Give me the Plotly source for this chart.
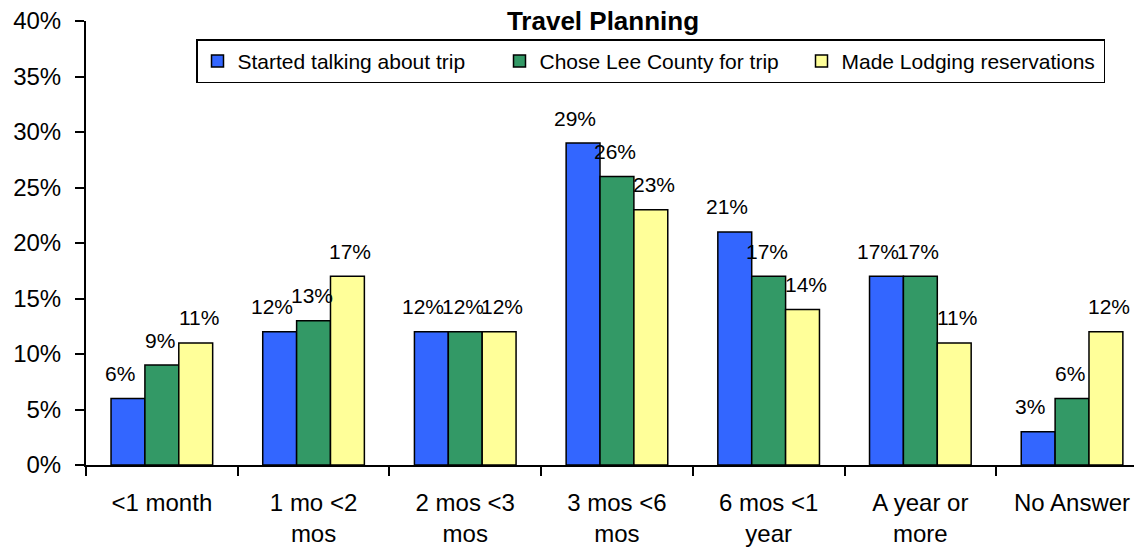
import plotly.graph_objects as go

categories = ["<1 month", "1 mo <2<br>mos", "2 mos <3<br>mos", "3 mos <6<br>mos",
              "6 mos <1<br>year", "A year or<br>more", "No Answer"]
series_names = ["Started talking about trip", "Chose Lee County for trip", "Made Lodging reservations"]
started = [6, 12, 12, 29, 21, 17, 3]
chose = [9, 13, 12, 26, 17, 17, 6]
lodging = [11, 17, 12, 23, 14, 11, 12]
y_ticks = [0, 5, 10, 15, 20, 25, 30, 35, 40]

colors = ["#3366FF", "#339966", "#FFFF99"]
FONT = "Arial, Liberation Sans, Helvetica, sans-serif"

W, H = 1134, 549
ML, MR, MT, MB = 86, 0, 21, 84
plot_w = W - ML - MR
cat_px = 151.7
x_end = -0.5 + plot_w / cat_px
bargap = 0.33
bar_px = cat_px * (1 - bargap) / 3

fig = go.Figure()
all_vals = [started, chose, lodging]
for name, vals, col in zip(series_names, all_vals, colors):
    fig.add_trace(go.Bar(
        x=categories, y=vals, name=name,
        marker=dict(color=col, line=dict(color="black", width=1.5)),
    ))

label_shift = [-8, -2, 3]
annotations = []
for i, vals in enumerate(all_vals):
    for cat, v in zip(categories, vals):
        annotations.append(dict(
            x=cat, y=v, xref="x", yref="y", text=f"{v}%", showarrow=False,
            xanchor="center", yanchor="middle",
            xshift=(i - 1) * bar_px + label_shift[i], yshift=25,
            font=dict(family=FONT, size=21, color="black"),
        ))

fig.update_layout(
    template="none",
    width=W, height=H,
    margin=dict(l=ML, r=MR, t=MT, b=MB, pad=0),
    paper_bgcolor="white", plot_bgcolor="white",
    barmode="group", bargap=bargap, bargroupgap=0,
    title=dict(text="<b>Travel Planning</b>", x=603 / W, xanchor="center",
               xref="container",
               y=1 - 21 / H, yanchor="middle", yref="container",
               font=dict(family=FONT, size=26, color="black")),
    legend=dict(orientation="h", x=(650.5 - ML) / plot_w, xanchor="center",
                y=(464.7 - 39) / (H - MT - MB), yanchor="top",
                bordercolor="black", borderwidth=1.5, bgcolor="white",
                font=dict(family=FONT, size=21, color="black"),
                entrywidth=257, entrywidthmode="pixels",
                traceorder="normal"),
    annotations=annotations,
    showlegend=True,
)

fig.update_xaxes(
    type="category", range=[-0.5, x_end], automargin=False,
    showline=True, linecolor="black", linewidth=2,
    ticks="outside", ticklen=9, tickwidth=1.5, tickcolor="black",
    tickson="boundaries", showgrid=False, zeroline=False,
    tickfont=dict(family=FONT, size=24, color="black"),
    ticklabelstandoff=15,
)
fig.update_yaxes(
    range=[0, 40], automargin=False,
    tickvals=y_ticks, ticktext=[f"{t}%" for t in y_ticks],
    showline=True, linecolor="black", linewidth=2,
    ticks="outside", ticklen=9, tickwidth=1.5, tickcolor="black",
    showgrid=False, zeroline=False,
    tickfont=dict(family=FONT, size=24, color="black"),
    ticklabelstandoff=9,
)

fig.write_html("out.html")
